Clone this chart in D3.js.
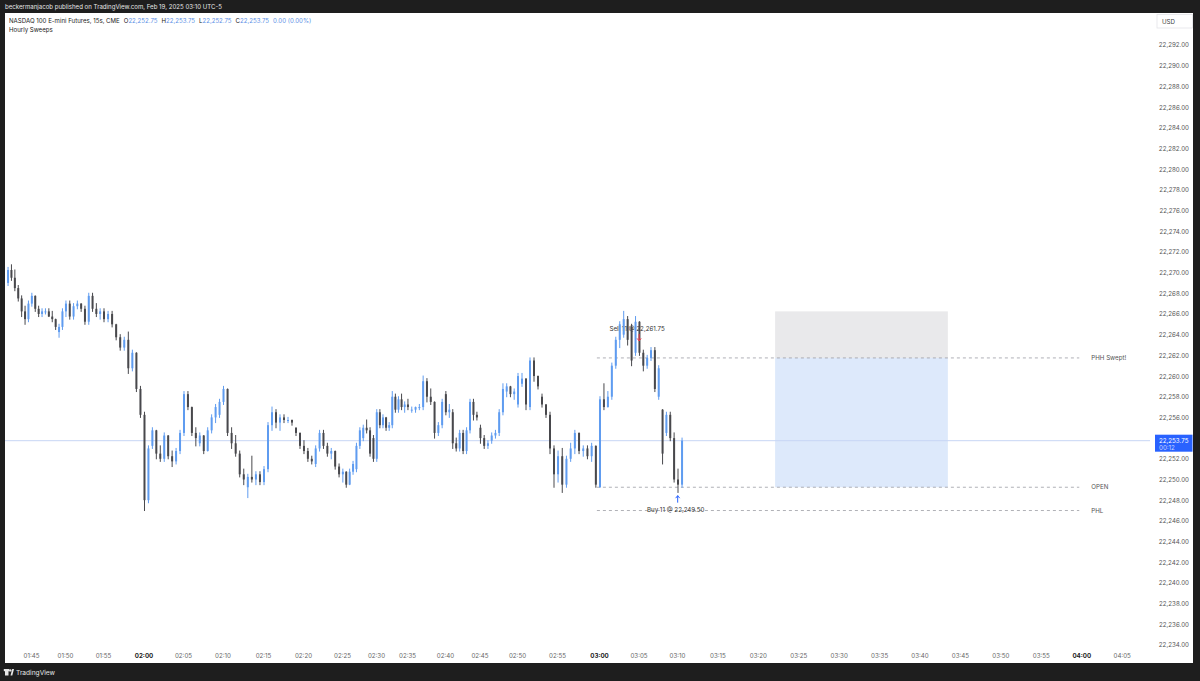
<!DOCTYPE html>
<html>
<head>
<meta charset="utf-8">
<script src="https://d3js.org/d3.v7.min.js"></script>
<style>
  body { margin: 0; background: #1e1e1e; }
  svg { display: block; font-family: Inter, "Noto Sans", sans-serif; }
</style>
</head>
<body>
<svg id="chart" width="1200" height="681"></svg>
<script>
var barStart = new Date(2025, 1, 19, 1, 41, 30);
var barSeconds = 30;

var opens = [
  22269.0, 22270.25, 22269.5, 22268.5, 22267.5, 22266.25, 22265.5,
  22267.0, 22267.75, 22266.5, 22266.0, 22266.25, 22266.25, 22265.75, 22265.5, 22264.25, 22264.75,
  22266.25, 22267.0, 22265.75, 22266.75, 22267.0, 22266.5, 22265.25, 22267.75, 22266.5, 22266.0,
  22266.25, 22265.5, 22266.0, 22265.0, 22263.75, 22262.75, 22263.5, 22260.75, 22262.25, 22258.75,
  22256.25, 22248.0, 22253.25, 22254.75, 22252.5, 22252.0, 22254.25, 22252.25, 22251.75, 22252.75,
  22254.5, 22258.25, 22257.0, 22254.5, 22253.5, 22254.25, 22252.75, 22254.75, 22256.0, 22256.25,
  22257.5, 22258.75, 22254.5, 22253.5, 22252.5, 22250.5, 22249.25, 22250.25, 22250.0, 22250.5,
  22249.75, 22251.0, 22255.25, 22256.5, 22255.5, 22256.0, 22255.75, 22255.75, 22255.0, 22254.5,
  22253.25, 22252.75, 22252.0, 22251.5, 22253.0, 22254.5, 22253.25, 22252.5, 22252.75, 22251.25,
  22250.5, 22250.75, 22249.5, 22250.75, 22251.0, 22253.25, 22254.0, 22255.0, 22254.75, 22254.0,
  22252.0, 22256.5, 22255.25, 22256.0, 22255.0, 22255.25, 22258.0, 22256.75, 22257.75, 22257.0,
  22257.25, 22256.75, 22256.75, 22257.0, 22257.0, 22259.5, 22258.0, 22257.5, 22254.5, 22255.25,
  22258.25, 22256.5, 22256.5, 22253.5, 22253.0, 22254.5, 22252.75, 22254.75, 22257.5, 22256.25,
  22255.0, 22254.0, 22253.25, 22253.75, 22254.25, 22254.5, 22256.5, 22258.5, 22259.0, 22258.25,
  22257.25, 22259.25, 22259.75, 22257.0, 22261.5, 22260.0, 22258.0, 22257.25, 22256.25, 22253.0,
  22250.5, 22252.25, 22249.5, 22252.0, 22253.0, 22254.5, 22252.75, 22253.0, 22252.25, 22253.25,
  22249.25, 22257.75, 22257.0, 22258.0, 22261.0, 22263.5, 22264.0, 22265.5, 22264.75, 22262.25,
  22265.25, 22262.25, 22261.0, 22261.75, 22262.5, 22258.0, 22256.75, 22254.5, 22256.25, 22254.0,
  22250.0, 22249.5
];
var highs = [
  22270.5, 22270.75, 22270.25, 22268.75, 22267.75, 22266.75, 22267.25,
  22268.0, 22267.75, 22266.75, 22266.5, 22266.5, 22266.5, 22266.25, 22265.5, 22265.0, 22266.5,
  22267.25, 22267.25, 22267.0, 22267.25, 22267.0, 22266.75, 22268.0, 22268.0, 22267.0, 22266.5,
  22266.5, 22266.25, 22266.25, 22265.0, 22264.0, 22263.75, 22264.25, 22262.5, 22262.25, 22259.0,
  22256.5, 22253.25, 22255.0, 22254.75, 22253.25, 22254.5, 22254.25, 22252.75, 22253.0, 22254.75,
  22258.5, 22258.5, 22257.0, 22255.0, 22254.5, 22254.25, 22255.0, 22256.25, 22257.25, 22257.75,
  22259.0, 22258.75, 22255.0, 22254.25, 22252.75, 22251.0, 22250.5, 22252.25, 22250.75, 22250.75,
  22251.25, 22255.5, 22257.0, 22256.75, 22256.25, 22256.25, 22256.0, 22255.75, 22255.0, 22254.5,
  22253.75, 22253.0, 22252.25, 22253.25, 22254.75, 22254.75, 22253.5, 22253.0, 22252.75, 22251.5,
  22251.0, 22250.75, 22251.0, 22251.75, 22253.5, 22255.0, 22255.25, 22255.75, 22255.0, 22254.25,
  22256.75, 22256.75, 22256.25, 22256.0, 22255.5, 22258.5, 22258.25, 22258.0, 22258.25, 22257.5,
  22257.75, 22257.0, 22257.0, 22257.25, 22260.0, 22259.75, 22258.75, 22257.5, 22255.5, 22257.75,
  22258.5, 22257.25, 22256.75, 22254.0, 22254.75, 22254.75, 22255.0, 22257.75, 22257.75, 22256.5,
  22255.25, 22254.25, 22253.75, 22254.5, 22254.75, 22256.75, 22259.25, 22259.25, 22259.0, 22258.75,
  22260.25, 22260.25, 22259.75, 22261.75, 22261.75, 22260.0, 22258.25, 22257.25, 22256.5, 22253.25,
  22252.75, 22253.0, 22252.25, 22253.5, 22254.75, 22254.5, 22253.25, 22253.25, 22253.5, 22253.25,
  22258.0, 22259.25, 22258.5, 22261.25, 22263.75, 22265.25, 22266.25, 22265.75, 22265.0, 22265.75,
  22265.25, 22262.5, 22262.0, 22262.75, 22262.75, 22261.0, 22256.75, 22256.5, 22256.5, 22254.5,
  22251.0, 22254.0
];
var lows = [
  22268.75, 22269.25, 22268.25, 22267.25, 22265.75, 22265.0, 22265.25,
  22266.75, 22266.25, 22265.75, 22265.75, 22266.0, 22265.75, 22265.25, 22264.5, 22263.75, 22264.5,
  22265.75, 22265.5, 22265.5, 22266.5, 22266.25, 22265.0, 22265.0, 22266.25, 22265.75, 22265.5,
  22265.25, 22265.25, 22264.75, 22263.5, 22262.5, 22262.5, 22260.25, 22260.5, 22258.5, 22256.0,
  22247.0, 22247.75, 22253.0, 22252.0, 22251.75, 22251.75, 22252.0, 22251.25, 22251.5, 22252.5,
  22254.25, 22256.75, 22254.25, 22253.25, 22253.25, 22252.5, 22252.75, 22254.5, 22255.5, 22256.0,
  22257.25, 22254.25, 22253.0, 22252.25, 22250.25, 22249.5, 22248.25, 22249.75, 22249.5, 22249.5,
  22249.5, 22250.75, 22254.75, 22255.0, 22254.75, 22255.5, 22255.5, 22255.25, 22254.25, 22253.0,
  22252.5, 22251.75, 22251.5, 22251.25, 22252.75, 22253.0, 22252.25, 22252.0, 22251.0, 22250.25,
  22249.75, 22249.25, 22249.5, 22250.5, 22250.75, 22253.0, 22253.75, 22254.5, 22252.25, 22251.75,
  22251.75, 22255.0, 22255.0, 22254.75, 22254.75, 22255.0, 22256.5, 22256.5, 22256.75, 22256.5,
  22256.75, 22256.5, 22256.5, 22256.75, 22256.75, 22257.5, 22257.25, 22254.0, 22254.25, 22255.0,
  22256.25, 22256.0, 22253.0, 22252.75, 22252.75, 22252.5, 22252.5, 22254.5, 22255.75, 22255.75,
  22253.5, 22253.0, 22253.0, 22253.5, 22254.0, 22254.25, 22256.25, 22258.0, 22258.0, 22257.75,
  22257.0, 22259.0, 22256.75, 22256.75, 22259.5, 22258.75, 22257.0, 22256.0, 22252.5, 22249.25,
  22249.75, 22248.75, 22249.25, 22251.75, 22252.5, 22252.5, 22252.25, 22252.0, 22251.75, 22249.25,
  22249.25, 22256.75, 22257.0, 22257.75, 22260.75, 22262.75, 22263.75, 22263.0, 22261.0, 22262.0,
  22262.0, 22260.5, 22260.75, 22261.5, 22258.5, 22257.75, 22251.5, 22254.25, 22253.75, 22249.75,
  22248.75, 22249.25
];
var closes = [
  22270.25, 22269.5, 22268.5, 22267.5, 22266.25, 22265.5, 22267.0,
  22267.75, 22266.5, 22266.0, 22266.25, 22266.25, 22265.75, 22265.5, 22264.75, 22264.75, 22266.25,
  22267.0, 22265.75, 22266.75, 22267.0, 22266.5, 22265.25, 22267.75, 22266.5, 22266.0, 22266.25,
  22265.5, 22266.0, 22265.0, 22263.75, 22262.75, 22263.5, 22260.75, 22262.25, 22258.75, 22256.25,
  22248.0, 22253.0, 22254.75, 22252.5, 22252.0, 22254.25, 22252.25, 22251.75, 22252.75, 22254.5,
  22258.25, 22257.0, 22254.5, 22254.0, 22254.25, 22252.75, 22254.75, 22256.0, 22257.0, 22257.5,
  22258.75, 22254.5, 22253.5, 22252.5, 22250.5, 22250.0, 22250.25, 22250.0, 22250.5, 22249.75,
  22251.0, 22255.25, 22256.5, 22255.5, 22256.0, 22255.75, 22255.75, 22255.5, 22254.5, 22253.25,
  22252.75, 22252.0, 22251.75, 22253.0, 22254.5, 22253.25, 22252.5, 22252.75, 22251.25, 22250.5,
  22250.75, 22249.5, 22250.75, 22251.5, 22253.25, 22254.75, 22255.0, 22254.75, 22252.5, 22252.0,
  22256.5, 22255.25, 22256.0, 22255.0, 22255.25, 22258.0, 22256.75, 22257.75, 22257.0, 22257.25,
  22257.0, 22256.75, 22257.0, 22257.0, 22259.5, 22258.0, 22257.5, 22254.5, 22255.25, 22257.5,
  22256.5, 22256.75, 22253.5, 22253.0, 22254.5, 22252.75, 22254.75, 22257.5, 22256.25, 22256.0,
  22254.0, 22253.25, 22253.5, 22254.25, 22254.5, 22256.5, 22258.75, 22259.0, 22258.25, 22258.5,
  22260.0, 22259.75, 22257.25, 22261.5, 22260.0, 22259.0, 22257.25, 22256.25, 22253.0, 22250.5,
  22252.25, 22249.5, 22252.0, 22253.0, 22254.5, 22252.75, 22253.0, 22252.25, 22253.25, 22249.5,
  22257.75, 22257.0, 22258.0, 22261.0, 22263.5, 22265.0, 22265.5, 22263.5, 22261.5, 22265.25,
  22262.25, 22261.0, 22261.75, 22262.5, 22258.75, 22260.75, 22252.5, 22256.25, 22254.0, 22250.0,
  22249.5, 22253.75
];

// time axis labels (TradingView spaces by bar, so the past is uneven)
var timeTicks = ["01:45", "01:50", "01:55", "02:00", "02:05", "02:10", "02:15", "02:20", "02:25",
  "02:30", "02:35", "02:40", "02:45", "02:50", "02:55", "03:00", "03:05", "03:10", "03:15",
  "03:20", "03:25", "03:30", "03:35", "03:40", "03:45", "03:50", "03:55", "04:00", "04:05"];

// drawn levels
var levelNames = ["PHH Swept!", "OPEN", "PHL"];
var levelPrices = [22261.75, 22249.25, 22247.0];
var levelFrom = "02:59:45", levelTo = "03:59:45";

// long position tool
var boxFrom = "03:22:08", boxTo = "03:43:30";
var boxTop = 22266.25, boxEntry = 22261.75, boxBottom = 22249.25;

// executions
var fillLabels = ["Sell 11 @ 22,261.75", "Buy 11 @ 22,249.50"];
var fillTimes = ["03:05:05", "03:10:05"];
var fillPrices = [22261.75, 22249.5];
var fillSides = ["sell", "buy"];

var lastPrice = 22253.75, countdown = "00:12";

function at(hms) {
  var p = hms.split(":").map(Number);
  return new Date(2025, 1, 19, p[0], p[1], p[2] || 0);
}

var svg = d3.select("#chart");
var W = 1200, H = 681;
var L = 5, R = 1193, T = 13, B = 663;
var upCol = "#5f9cf0", downCol = "#48484c";
var fs = 6.2;

// uneven bar-index spacing expressed as a piecewise time scale
var x = d3.scaleTime()
  .domain(["01:45", "01:50", "01:55", "02:00", "02:05", "02:10", "02:15", "02:20", "02:25", "02:30",
    "02:35", "02:40", "02:45", "02:50", "02:55", "03:00", "03:05", "03:10", "04:05"].map(at))
  .range([31, 65, 103, 143.5, 183, 222.5, 263, 303, 342, 376, 407, 445, 479.5, 517, 557, 599, 638.5, 677, 1121.7]);
var y = d3.scaleLinear().domain([22234, 22292]).range([645, 45]);

svg.append("rect").attr("width", W).attr("height", H).attr("fill", "#1e1e1e");
svg.append("rect").attr("x", L).attr("y", T).attr("width", R - L).attr("height", B - T).attr("fill", "#ffffff");

svg.append("defs").append("clipPath").attr("id", "plot")
  .append("rect").attr("x", L).attr("y", T).attr("width", 1150 - L).attr("height", B - T - 14);

// header
svg.append("text").attr("x", 5).attr("y", 9.3).attr("font-size", 6.1).attr("fill", "#e6e6e6")
  .text("beckermanjacob published on TradingView.com, Feb 19, 2025 03:10 UTC-5");

var legend = svg.append("text").attr("x", 9).attr("y", 23.3).attr("font-size", 6.1).attr("fill", "#222");
legend.append("tspan").text("NASDAQ 100 E-mini Futures, 15s, CME");
[["O", "22,252.75"], ["H", "22,253.75"], ["L", "22,252.75"], ["C", "22,253.75"]].forEach(function(p) {
  legend.append("tspan").attr("dx", 4).text(p[0]);
  legend.append("tspan").attr("fill", "#5b8fe6").text(p[1]);
});
legend.append("tspan").attr("dx", 4).attr("fill", "#5b8fe6").text("0.00 (0.00%)");
svg.append("text").attr("x", 9).attr("y", 32.3).attr("font-size", 6.1).attr("fill", "#222").text("Hourly Sweeps");

var plot = svg.append("g").attr("clip-path", "url(#plot)");

// position box
plot.append("rect")
  .attr("x", x(at(boxFrom))).attr("width", x(at(boxTo)) - x(at(boxFrom)))
  .attr("y", y(boxTop)).attr("height", y(boxEntry) - y(boxTop))
  .attr("fill", "#e9e9eb");
plot.append("rect")
  .attr("x", x(at(boxFrom))).attr("width", x(at(boxTo)) - x(at(boxFrom)))
  .attr("y", y(boxEntry)).attr("height", y(boxBottom) - y(boxEntry))
  .attr("fill", "#dde9fb");

// last price line
plot.append("line").attr("x1", L).attr("x2", 1155)
  .attr("y1", y(lastPrice)).attr("y2", y(lastPrice))
  .attr("stroke", "#c7d6f4").attr("stroke-width", 1);

// levels
levelPrices.forEach(function(p, i) {
  plot.append("line")
    .attr("x1", x(at(levelFrom))).attr("x2", x(at(levelTo)))
    .attr("y1", y(p)).attr("y2", y(p))
    .attr("stroke", "#9a9ca3").attr("stroke-width", 0.8).attr("stroke-dasharray", "3,3");
  plot.append("text")
    .attr("x", x(at(levelTo)) + 12).attr("y", y(p) + 2.2)
    .attr("font-size", fs).attr("fill", "#555")
    .text(levelNames[i]);
});

// execution labels sit under the bars
fillLabels.forEach(function(lab, i) {
  var fx = x(at(fillTimes[i])), fy = y(fillPrices[i]);
  var sell = fillSides[i] == "sell";
  plot.append("text")
    .attr("x", fx - 2).attr("y", sell ? fy - 27 : fy + 27.5)
    .attr("text-anchor", "middle").attr("font-size", fs).attr("fill", "#333")
    .text(lab);
});

// candles
var bars = opens.map(function(o, i) {
  return { t: new Date(+barStart + (i * barSeconds + 7.5) * 1000), o: o, h: highs[i], l: lows[i], c: closes[i] };
});
var candle = plot.append("g").selectAll("g").data(bars).enter().append("g");
candle.append("line")
  .attr("x1", function(d) { return x(d.t); }).attr("x2", function(d) { return x(d.t); })
  .attr("y1", function(d) { return y(d.h) - 0.5; }).attr("y2", function(d) { return y(d.l) + 0.5; })
  .attr("stroke", function(d) { return d.c >= d.o ? upCol : downCol; })
  .attr("stroke-width", 1);
candle.append("rect")
  .attr("x", function(d) { return x(d.t) - 1; }).attr("width", 2)
  .attr("y", function(d) { return y(Math.max(d.o, d.c)); })
  .attr("height", function(d) { return Math.max(1, Math.abs(y(d.o) - y(d.c))); })
  .attr("fill", function(d) { return d.c >= d.o ? upCol : downCol; });

// execution arrows on top of the bars
fillTimes.forEach(function(t, i) {
  var fx = x(at(t)), fy = y(fillPrices[i]);
  var sell = fillSides[i] == "sell";
  var col = sell ? "#f23645" : "#2962ff";
  var y0 = sell ? fy - 24 : fy + 18, y1 = sell ? fy - 17 : fy + 11;
  plot.append("line").attr("x1", fx).attr("x2", fx).attr("y1", y0).attr("y2", y1)
    .attr("stroke", col).attr("stroke-width", 1);
  plot.append("path")
    .attr("d", "M" + (fx - 2) + "," + (y1 + (sell ? -2.5 : 2.5)) + "L" + fx + "," + y1 + "L" + (fx + 2) + "," + (y1 + (sell ? -2.5 : 2.5)))
    .attr("fill", "none").attr("stroke", col).attr("stroke-width", 1);
});

// price axis
var yAxis = svg.append("g").attr("transform", "translate(1189,0)")
  .call(d3.axisLeft(y).tickValues(d3.range(22234, 22293, 2)).tickSize(0).tickPadding(0)
    .tickFormat(d3.format(",.2f")));
yAxis.select(".domain").remove();
yAxis.selectAll("text").attr("font-family", "Inter, sans-serif").attr("font-size", fs).attr("fill", "#555");

// currency box
svg.append("rect").attr("x", 1157).attr("y", 14.5).attr("width", 35.5).attr("height", 13.5)
  .attr("fill", "#fff").attr("stroke", "#e3e4e8").attr("stroke-width", 0.8);
svg.append("text").attr("x", 1162).attr("y", 23.8).attr("font-size", fs).attr("fill", "#444").text("USD");

// last price label
svg.append("rect").attr("x", 1155).attr("y", y(lastPrice) - 6).attr("width", 37.5).attr("height", 17)
  .attr("fill", "#2962ff");
svg.append("text").attr("x", 1159).attr("y", y(lastPrice) + 2.1).attr("font-size", fs).attr("fill", "#fff")
  .text(d3.format(",.2f")(lastPrice));
svg.append("text").attr("x", 1159).attr("y", y(lastPrice) + 9.2).attr("font-size", fs).attr("fill", "#c9d7ff")
  .text(countdown);

// time axis
var xAxis = svg.append("g").attr("transform", "translate(0,654)")
  .call(d3.axisBottom(x).tickValues(timeTicks.map(at)).tickSize(0).tickPadding(0)
    .tickFormat(d3.timeFormat("%H:%M")));
xAxis.select(".domain").remove();
xAxis.selectAll("text")
  .attr("font-family", "Inter, sans-serif").attr("font-size", fs)
  .attr("fill", function(d) { return d.getMinutes() == 0 ? "#222" : "#666"; })
  .attr("font-weight", function(d) { return d.getMinutes() == 0 ? "bold" : "normal"; });

// footer logo
var logo = svg.append("g").attr("fill", "#e6e6e6");
logo.append("rect").attr("x", 5).attr("y", 669).attr("width", 3.5).attr("height", 6.5);
logo.append("rect").attr("x", 3.8).attr("y", 669).attr("width", 5.5).attr("height", 2.2);
logo.append("circle").attr("cx", 10.3).attr("cy", 670.4).attr("r", 1.2);
logo.append("path").attr("d", "M10.5,675.5L12.2,669L14,669L12.3,675.5Z");
svg.append("text").attr("x", 16).attr("y", 674.6).attr("font-size", 6.6).attr("fill", "#e6e6e6").text("TradingView");
</script>
</body>
</html>
